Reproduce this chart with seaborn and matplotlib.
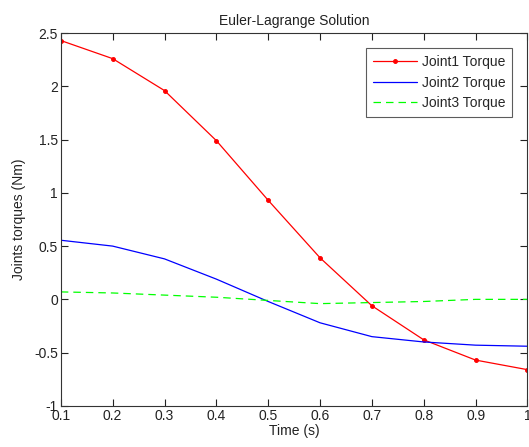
import matplotlib
matplotlib.use("Agg")
import matplotlib.pyplot as plt
import seaborn as sns
import pandas as pd

# values
time_s = [0.1, 0.2, 0.3, 0.4, 0.5, 0.6, 0.7, 0.8, 0.9, 1.0]
joint1 = [2.43, 2.26, 1.96, 1.49, 0.93, 0.39, -0.06, -0.38, -0.57, -0.66]
joint2 = [0.555, 0.50, 0.38, 0.19, -0.02, -0.22, -0.35, -0.40, -0.43, -0.44]
joint3 = [0.07, 0.06, 0.04, 0.02, -0.01, -0.04, -0.03, -0.02, 0.0, 0.0]
xticks = [0.1, 0.2, 0.3, 0.4, 0.5, 0.6, 0.7, 0.8, 0.9, 1.0]
xtick_labels = ["0.1", "0.2", "0.3", "0.4", "0.5", "0.6", "0.7", "0.8", "0.9", "1"]
yticks = [-1, -0.5, 0, 0.5, 1, 1.5, 2, 2.5]
ytick_labels = ["-1", "-0.5", "0", "0.5", "1", "1.5", "2", "2.5"]

sns.set_theme(style="ticks")
plt.rcParams["font.family"] = ["Liberation Sans", "DejaVu Sans"]
plt.rcParams["axes.unicode_minus"] = False

fig, ax = plt.subplots(figsize=(5.29, 4.47), dpi=100)
fig.subplots_adjust(left=0.115, right=0.997, bottom=0.092, top=0.926)

sns.lineplot(x=time_s, y=joint1, ax=ax, color="red", lw=0.9, marker=".",
             markersize=5.5, markeredgecolor="red", label="Joint1 Torque")
sns.lineplot(x=time_s, y=joint2, ax=ax, color="blue", lw=0.9, label="Joint2 Torque")
sns.lineplot(x=time_s, y=joint3, ax=ax, color="#00ff00", lw=0.9, label="Joint3 Torque")
ax.lines[2].set_dashes([6, 4])

ax.set_xlim(0.1, 1.0)
ax.set_ylim(-1, 2.5)
ax.set_xticks(xticks)
ax.set_xticklabels(xtick_labels)
ax.set_yticks(yticks)
ax.set_yticklabels(ytick_labels)
ax.tick_params(direction="in", top=True, right=True, length=5, width=0.8,
               labelsize=10, colors="#222222", pad=2)
for sp in ax.spines.values():
    sp.set_visible(True)
    sp.set_color("#333333")
    sp.set_linewidth(0.8)

ax.set_title("Euler-Lagrange Solution", fontsize=10, color="#222222", pad=6)
ax.set_xlabel("Time (s)", fontsize=10, color="#222222", labelpad=1)
ax.set_ylabel("Joints torques (Nm)", fontsize=10, color="#222222", labelpad=6)

leg = ax.legend(loc="upper right", fontsize=10, frameon=True, fancybox=False,
                handlelength=3.2, borderaxespad=1.1, labelspacing=0.45,
                handletextpad=0.3, borderpad=0.5)
leg.get_frame().set_edgecolor("#333333")
leg.get_frame().set_linewidth(0.8)
leg.legend_handles[2].set_dashes([6, 4])

fig.savefig("out.png", dpi=100)
